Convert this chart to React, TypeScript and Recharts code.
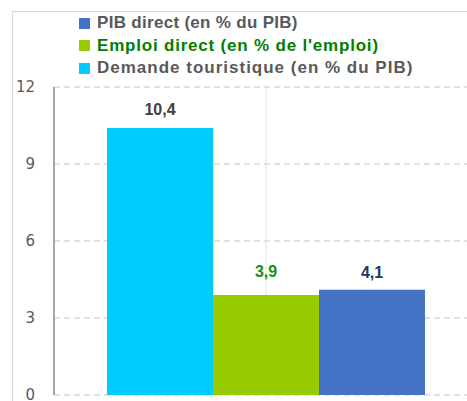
import { Bar, BarChart, CartesianGrid, LabelList, XAxis, YAxis } from "recharts";

const categories = ["Tourisme"];
const demandeTouristique = [10.4];
const emploiDirect = [3.9];
const pibDirect = [4.1];
const yTicks = [0, 3, 6, 9, 12];

const seriesNames = {
  pib: "PIB direct (en % du PIB)",
  emploi: "Emploi direct (en % de l'emploi)",
  demande: "Demande touristique (en % du PIB)",
};

const data = categories.map((name, i) => ({
  name,
  demande: demandeTouristique[i],
  emploi: emploiDirect[i],
  pib: pibDirect[i],
}));

const legendItems = [
  { key: "pib", color: "#4472c4", text: "#595959", spacing: 0.3 },
  { key: "emploi", color: "#99cc00", text: "#008000", spacing: 0.8 },
  { key: "demande", color: "#00ccff", text: "#595959", spacing: 1.0 },
];

const fmt = (v: any) => String(v).replace(".", ",");
const font = "Liberation Sans, Arial, sans-serif";

function LegendBox() {
  return (
    <div style={{ fontFamily: font, fontWeight: "bold", fontSize: 17, lineHeight: "22.5px" }}>
      {legendItems.map((item) => (
        <div key={item.key} style={{ display: "flex", alignItems: "center", color: item.text, letterSpacing: item.spacing, whiteSpace: "nowrap" }}>
          <span style={{ width: 11, height: 11, background: item.color, marginRight: 7, display: "inline-block" }} />
          {seriesNames[item.key as keyof typeof seriesNames]}
        </div>
      ))}
    </div>
  );
}

export default function App() {
  return (
    <div style={{ position: "absolute", left: 0, top: 0, width: 467, height: 401, overflow: "hidden", background: "#fff" }}>
      <div style={{ position: "absolute", left: 12, top: 11, width: 480, height: 420, border: "1px solid #d9d9d9" }} />
      <div style={{ position: "absolute", left: 0, top: 0 }}>
        <BarChart
          width={490}
          height={401}
          data={data}
          margin={{ top: 87, right: 12, left: 0, bottom: 6 }}
          barCategoryGap={53}
          barGap={0}
        >
          <CartesianGrid horizontal={false} vertical={true} stroke="#ebebeb" strokeWidth={1.5} />
          <CartesianGrid horizontal={true} vertical={false} stroke="#d9d9d9" strokeDasharray="6 4" strokeWidth={1.5} />
          <XAxis dataKey="name" hide />
          <YAxis
            domain={[0, 12]}
            ticks={yTicks}
            interval={0}
            width={54}
            tickLine={false}
            tickMargin={13}
            axisLine={{ stroke: "#a6a6a6", strokeWidth: 2 }}
            tick={{ fill: "#595959", fontSize: 15, fontFamily: "DejaVu Sans, sans-serif" }}
          />
          <Bar dataKey="demande" name={seriesNames.demande} fill="#00ccff" isAnimationActive={false}>
            <LabelList dataKey="demande" position="top" offset={13} formatter={fmt} fill="#404040" fontSize={16} fontWeight="bold" fontFamily={font} />
          </Bar>
          <Bar dataKey="emploi" name={seriesNames.emploi} fill="#99cc00" isAnimationActive={false}>
            <LabelList dataKey="emploi" position="top" offset={18} formatter={fmt} fill="#1a8c1a" fontSize={16} fontWeight="bold" fontFamily={font} />
          </Bar>
          <Bar dataKey="pib" name={seriesNames.pib} fill="#4472c4" isAnimationActive={false}>
            <LabelList dataKey="pib" position="top" offset={12} formatter={fmt} fill="#1f3864" fontSize={16} fontWeight="bold" fontFamily={font} />
          </Bar>
        </BarChart>
      </div>
      <div style={{ position: "absolute", left: 79, top: 12 }}>
        <LegendBox />
      </div>
    </div>
  );
}
